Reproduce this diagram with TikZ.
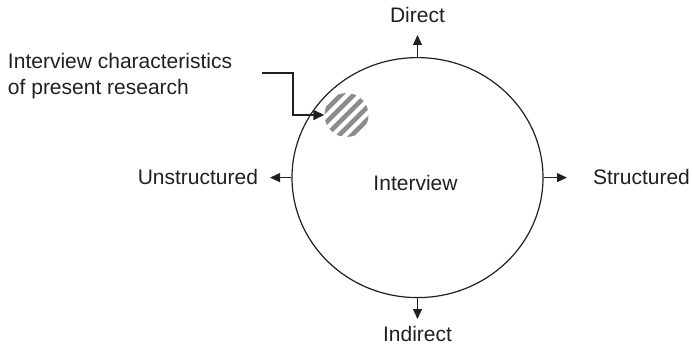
\documentclass[tikz,border=0pt]{standalone}
\usepackage{fontspec}
\setmainfont{Liberation Sans}
\usetikzlibrary{arrows.meta,shapes.geometric,calc}
\definecolor{ink}{HTML}{231F20}
\definecolor{stripe}{HTML}{8C8C8C}
\begin{document}
\begin{tikzpicture}[x=1pt,y=-1pt,
  lbl/.style={inner sep=0pt,outer sep=0pt,text=ink,font=\fontsize{21}{26}\selectfont},
  axisarrow/.style={draw=ink,line width=1.2pt,-{Triangle[length=10pt,width=9pt]}},
  callout/.style={draw=ink,line width=1.5pt,-{Triangle[length=11pt,width=10pt]}}]
  \useasboundingbox (0,0) rectangle (693,345);

  % main ellipse
  \node[ellipse,draw=ink,line width=1.2pt,minimum width=251pt,minimum height=240pt,inner sep=0pt]
    (iv) at (417.5,177.6) {};
  \node[lbl,anchor=base] (ivlabel) at (415.5,190) {Interview};

  % axis end points and labels
  \coordinate (tipN) at (417.5,35);
  \coordinate (tipS) at (417.5,319);
  \coordinate (tipW) at (270,177.6);
  \coordinate (tipE) at (567,177.6);
  \draw[axisarrow] (iv.north) -- (tipN);
  \draw[axisarrow] (iv.south) -- (tipS);
  \draw[axisarrow] (iv.west) -- (tipW);
  \draw[axisarrow] (iv.east) -- (tipE);
  \node[lbl,anchor=base] (direct) at (417.5,22.5) {Direct};
  \node[lbl,anchor=base] (indirect) at (417.5,341.5) {Indirect};
  \node[lbl,anchor=base east] (unstr) at (258,184) {Unstructured};
  \node[lbl,anchor=base west] (str) at (593,184) {Structured};

  % hatched disc marking the present research
  \begin{scope}
    \clip (346.5,115) circle (22);
    \foreach \k in {-4,...,4}
      \draw[stripe,line width=4.6pt]
        ($(346.5,115)+(\k*6.4,\k*6.4)+(-30,30)$) -- ++(60,-60);
  \end{scope}
  \node[circle,inner sep=0pt,minimum size=44pt] (hatch) at (346.5,115) {};

  % callout
  \node[lbl,anchor=base west] (note1) at (8,68) {Interview characteristics};
  \node[lbl,anchor=base west] (note2) at (8,94) {of present research};
  \coordinate (calloutstart) at (262,73);
  \draw[callout] (calloutstart) -- (293,73) -- (293,115) -- (hatch.west);
\end{tikzpicture}
\end{document}
